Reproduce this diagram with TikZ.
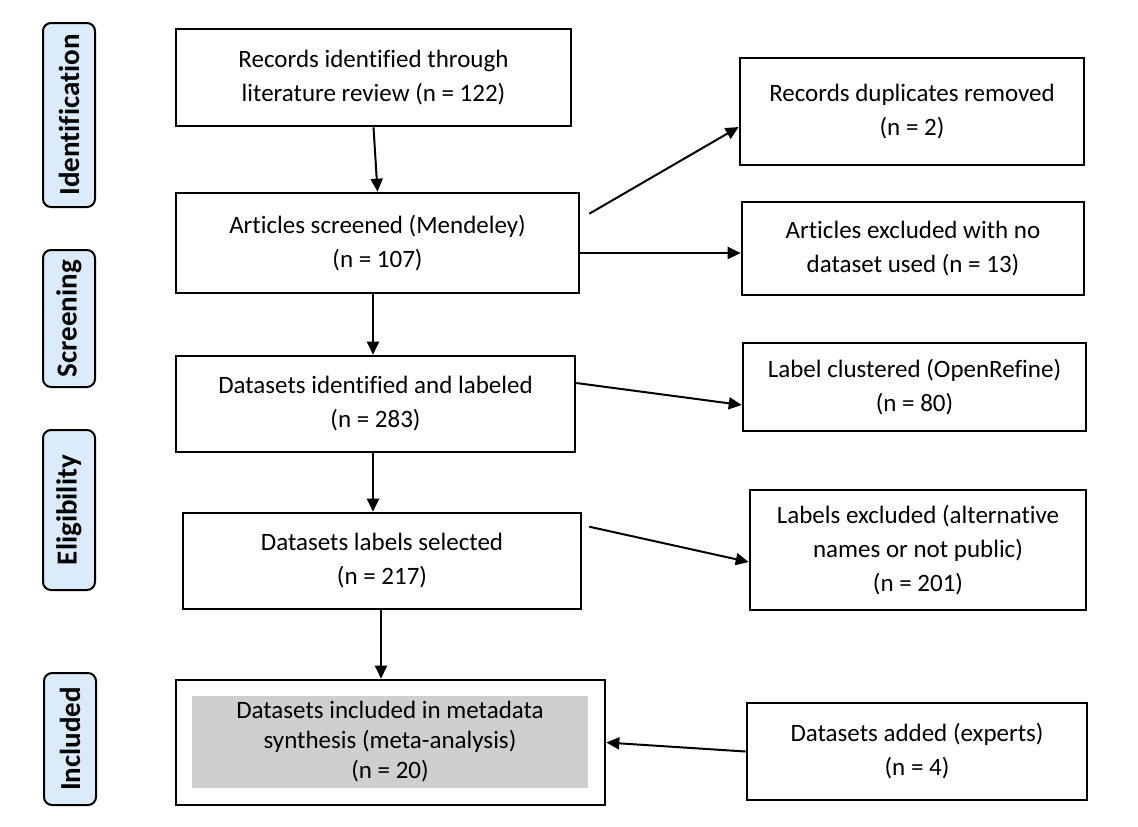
\documentclass[tikz,border=0pt]{standalone}
\usepackage{fontspec}
\setmainfont{Carlito}[Ligatures=NoCommon]
\usepackage{xcolor}
\usepackage{tikz}
\usetikzlibrary{positioning,arrows.meta,calc}
\definecolor{prismablue}{HTML}{DCEBFA}
\definecolor{prismagrey}{HTML}{D0CECE}

\begin{document}
\begin{tikzpicture}[x=0.5pt,y=-0.5pt,
  stage/.style={draw,line width=1pt,rounded corners=4pt,fill=prismablue,rotate=90,minimum height=26pt,inner sep=0pt,font=\fontsize{14.5}{16}\selectfont\bfseries},
  box/.style={draw,line width=1.3pt,align=center,inner sep=0pt,font=\fontsize{12.5}{17}\selectfont},
  arr/.style={-{Triangle[length=6.5pt,width=6pt]},line width=1pt}
]
\useasboundingbox (0,0) rectangle (1138,826);
% stages on the left
\node[stage,minimum width=92pt] (s1) at (69,115) {Identification};
\node[stage,minimum width=68.5pt] (s2) at (69,318.5) {Screening};
\node[stage,minimum width=80pt] (s3) at (69,510) {Eligibility};
\node[stage,minimum width=66pt] (s4) at (70,739) {Included};
% main column
\node[box,minimum width=197.5pt,minimum height=48.5pt] (b1) at (373.5,77.5) {Records identified through\\literature review (n = 122)};
\node[box,minimum width=201.5pt,minimum height=50pt] (b2) at (377.5,243) {Articles screened (Mendeley)\\(n = 107)};
\node[box,minimum width=199.5pt,minimum height=48pt] (b3) at (375.5,404) {Datasets identified and labeled\\(n = 283)};
\node[box,minimum width=199pt,minimum height=48pt] (b4) at (382,561) {Datasets labels selected\\(n = 217)};
\node[box,minimum width=214.5pt,minimum height=62.5pt] (b5) at (390.5,742.5) {};
\node[fill=prismagrey,align=center,inner sep=0pt,minimum width=198pt,minimum height=46pt,font=\fontsize{12.5}{15}\selectfont] (b5in) at (390,742) {Datasets included in metadata\\synthesis (meta-analysis)\\(n = 20)};
% right column
\node[box,minimum width=172pt,minimum height=53.5pt] (r1) at (912,111.5) {Records duplicates removed\\(n = 2)};
\node[box,minimum width=171pt,minimum height=46.5pt] (r2) at (913,248.5) {Articles excluded with no\\dataset used (n = 13)};
\node[box,minimum width=171.5pt,minimum height=44pt] (r3) at (914.5,387) {Label clustered (OpenRefine)\\(n = 80)};
\node[box,minimum width=168pt,minimum height=60pt] (r4) at (918,550) {Labels excluded (alternative\\names or not public)\\(n = 201)};
\node[box,minimum width=170pt,minimum height=48.5pt] (r5) at (917,751.5) {Datasets added (experts)\\(n = 4)};
% connectors
\draw[arr] (b1.south) -- (b2.north);
\draw[arr] ([xshift=-2.25pt]b2.south) -- ([xshift=-2.25pt]b2.south |- b3.north);
\draw[arr] ([xshift=-1.25pt]b3.south) -- ([xshift=-1.25pt]b3.south |- b4.north);
\draw[arr] ([xshift=-0.5pt]b4.south) -- ([xshift=-0.5pt]b4.south |- b5.north);
\draw[arr] ($(b2.north east)+(9,22)$) -- ([yshift=-7.75pt]r1.west);
\draw[arr] ([yshift=-5pt]b2.east) -- ([yshift=-5pt]b2.east -| r2.west);
\draw[arr] ([yshift=10.5pt]b3.east) -- ([yshift=-9pt]r3.west);
\draw[arr] ($(b4.north east)+(7,15)$) -- ([yshift=-6pt]r4.west);
\draw[arr] (r5.west) -- (b5.east);
\end{tikzpicture}
\end{document}
